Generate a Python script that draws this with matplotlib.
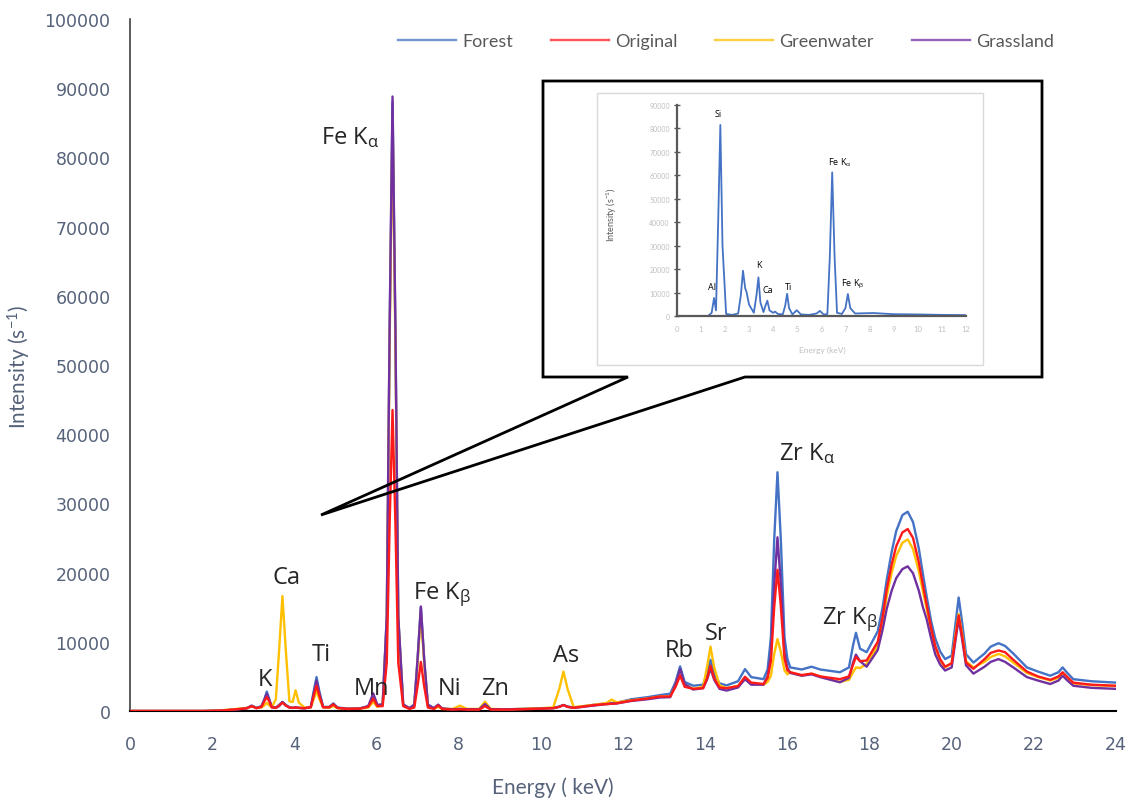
import matplotlib
matplotlib.use("Agg")
import matplotlib.pyplot as plt
from matplotlib.patches import Rectangle, Polygon
import numpy as np

plt.rcParams['font.family'] = ['Lato', 'DejaVu Sans']
plt.rcParams['mathtext.default'] = 'regular'

# ---------------- main spectrum data ----------------
energy = [
    0, 1.8, 2.2, 2.6, 2.85, 2.96, 3.08, 3.2, 3.27, 3.33,
    3.39, 3.45, 3.55, 3.63, 3.71, 3.79, 3.88, 3.96, 4.03, 4.11,
    4.25, 4.4, 4.47, 4.54, 4.61, 4.7, 4.85, 4.95, 5.05, 5.3,
    5.6, 5.8, 5.92, 6.02, 6.15, 6.25, 6.32, 6.39, 6.46, 6.53,
    6.65, 6.8, 6.92, 7.0, 7.08, 7.16, 7.25, 7.4, 7.5, 7.6,
    7.85, 8.03, 8.2, 8.5, 8.64, 8.78, 9.2, 9.8, 10.3, 10.45,
    10.55, 10.65, 10.8, 11.3, 11.6, 11.72, 11.85, 12.2, 12.6, 12.9,
    13.15, 13.28, 13.39, 13.5, 13.71, 13.95, 14.05, 14.13, 14.22, 14.35,
    14.52, 14.8, 14.97, 15.12, 15.42, 15.52, 15.6, 15.68, 15.76, 15.84, 15.93, 16.0,
    16.07, 16.35, 16.59, 16.8, 17.28, 17.5, 17.6, 17.67, 17.77, 17.93,
    18.2, 18.32, 18.42, 18.54, 18.65, 18.8, 18.93, 19.06, 19.2, 19.3, 19.39, 19.5, 19.6, 19.72, 19.84,
    20.0, 20.1, 20.17, 20.25, 20.35, 20.53, 20.8, 20.95, 21.14, 21.3, 21.5, 21.83,
    22.1, 22.4, 22.6, 22.7, 22.8, 22.96, 23.4, 24.0,
]

forest = [
    0, 0, 60, 250, 450, 780, 450, 700, 1700, 2800,
    1700, 600, 500, 900, 1300, 900, 550, 450, 550, 450,
    400, 600, 2800, 4900, 2800, 600, 600, 1100, 500, 350,
    400, 700, 2300, 800, 900, 13500, 55000, 88000, 55000, 13500,
    900, 400, 900, 7500, 15000, 7500, 900, 400, 900, 350,
    250, 300, 250, 250, 1000, 250, 250, 350, 450, 650,
    870, 650, 500, 900, 1100, 1150, 1200, 1700, 2000, 2300,
    2500, 4200, 6450, 4200, 3650, 3800, 5500, 7400, 5300, 4000,
    3700, 4300, 6050, 4900, 4600, 6000, 10600, 24700, 34500, 25000, 10700, 7600,
    6300, 6000, 6400, 6000, 5600, 6300, 9500, 11300, 9000, 8500,
    11500, 15000, 19000, 23000, 26000, 28300, 28800, 27300, 23500, 19800, 16600, 13000, 10500, 8600, 7500,
    8000, 13000, 16400, 13000, 8200, 7000, 8300, 9300, 9800, 9400, 8300, 6300,
    5700, 5100, 5600, 6300, 5600, 4600, 4300, 4100,
]

original = [
    0, 0, 60, 250, 400, 700, 400, 600, 1400, 2000,
    1400, 550, 450, 800, 1200, 800, 500, 450, 500, 450,
    400, 550, 2200, 3650, 2200, 550, 550, 950, 450, 300,
    350, 600, 1800, 700, 700, 7000, 27000, 43500, 27000, 7000,
    700, 300, 500, 3600, 7100, 3600, 500, 300, 800, 300,
    200, 250, 200, 200, 700, 200, 200, 300, 400, 600,
    850, 600, 450, 850, 1000, 1050, 1100, 1500, 1800, 2100,
    2100, 3500, 5100, 3500, 3200, 3300, 4800, 6550, 4700, 3400,
    3300, 3600, 4950, 4100, 3900, 4800, 7200, 14950, 20400, 15300, 7600, 5900,
    5600, 5200, 5400, 5000, 4600, 5000, 6700, 7800, 7200, 7300,
    10000, 13600, 17600, 21200, 23800, 25800, 26300, 25000, 21500, 18200, 15400, 12000, 9400, 7500, 6400,
    6900, 11000, 13800, 11000, 7000, 6100, 7500, 8400, 8750, 8500, 7400, 5700,
    5000, 4500, 5000, 5600, 5000, 4100, 3800, 3650,
]

greenwater = [
    0, 0, 80, 300, 450, 700, 450, 500, 800, 1200,
    800, 500, 1700, 8800, 16600, 9000, 1400, 1300, 3000, 1200,
    500, 500, 1700, 2900, 1700, 500, 450, 700, 400, 300,
    350, 500, 1300, 600, 900, 13000, 53000, 86000, 53000, 13000,
    900, 400, 800, 7000, 14000, 7000, 800, 350, 600, 300,
    300, 770, 300, 300, 1350, 300, 250, 350, 500, 3200,
    5700, 3200, 550, 900, 1150, 1650, 1250, 1550, 1800, 2100,
    2100, 3800, 5700, 3800, 3200, 3500, 6500, 9300, 6300, 3700,
    3300, 3600, 4800, 4000, 3800, 4200, 5100, 8200, 10400, 8600, 5900, 5300,
    5600, 5100, 5400, 5000, 4200, 4500, 5600, 6300, 6200, 6800,
    9400, 12800, 16600, 20000, 22400, 24300, 24800, 23400, 20200, 17300, 14800, 11600, 9100, 7300, 6300,
    6900, 11300, 14000, 11300, 7200, 6300, 7100, 7800, 8250, 7900, 7000, 5500,
    4900, 4400, 4800, 5500, 4900, 4000, 3750, 3600,
]

grassland = [
    0, 0, 40, 200, 400, 750, 420, 650, 1600, 2500,
    1600, 550, 450, 700, 1300, 800, 500, 450, 500, 450,
    400, 550, 2500, 4400, 2500, 550, 550, 1000, 450, 300,
    350, 700, 2550, 900, 950, 13700, 55500, 88800, 55500, 13700,
    950, 400, 900, 7500, 15100, 7500, 900, 400, 900, 350,
    250, 300, 250, 250, 1000, 250, 250, 300, 400, 600,
    870, 600, 450, 800, 1000, 1050, 1100, 1450, 1700, 1950,
    2000, 3900, 6050, 3900, 3100, 3300, 4600, 6150, 4500, 3200,
    2950, 3400, 4600, 3800, 3800, 5000, 8060, 18100, 25100, 18500, 8400, 6300,
    5500, 5100, 5300, 4900, 4150, 4800, 7000, 8150, 7200, 6400,
    8800, 11800, 14800, 17400, 19200, 20500, 20900, 19900, 17400, 15000, 13300, 10500, 8200, 6700, 5850,
    6300, 10500, 13300, 10500, 6600, 5400, 6400, 7100, 7500, 7100, 6300, 4900,
    4400, 3900, 4400, 5100, 4500, 3650, 3350, 3200,
]

assert len(energy) == len(forest) == len(original) == len(greenwater) == len(grassland)

series_names = ["Forest", "Original", "Greenwater", "Grassland"]
series_colors = ["#4472C4", "#FF1A1A", "#FFC000", "#7030A0"]

peak_labels = ["Fe K$_{α}$", "Ca", "K", "Ti", "Mn", "Fe K$_{β}$", "Ni", "Zn",
               "As", "Rb", "Sr", "Zr K$_{α}$", "Zr K$_{β}$"]
peak_label_x = [5.36, 3.82, 3.29, 4.65, 5.87, 7.6, 7.77, 8.89,
                10.61, 13.36, 14.26, 16.48, 17.53]
peak_label_y = [83000, 19300, 4600, 8200, 3300, 17000, 3300, 3300,
                8100, 8800, 11300, 37300, 13400]

# ---------------- inset spectrum data ----------------
inset_energy = [0, 1.3, 1.45, 1.55, 1.63, 1.72, 1.81, 1.9, 2.05, 2.3,
                2.55, 2.66, 2.75, 2.84, 2.9, 3.0, 3.2, 3.31, 3.39, 3.47,
                3.6, 3.68, 3.76, 3.85, 4.0, 4.08, 4.2, 4.4, 4.5, 4.58,
                4.66, 4.8, 4.98, 5.15, 5.5, 5.8, 5.94, 6.1, 6.25, 6.35,
                6.45, 6.55, 6.65, 6.85, 7.0, 7.1, 7.2, 7.4, 8.15, 9,
                10, 11, 12]
inset_intensity = [0, 100, 1500, 7800, 2500, 40000, 81500, 30000, 1000, 600,
                   1200, 9000, 19400, 12000, 10200, 5000, 1500, 9000, 16600, 6000,
                   1800, 4500, 6650, 2500, 1500, 2000, 1000, 800, 4500, 9600,
                   3500, 800, 2600, 800, 600, 1200, 2300, 700, 1000, 25000,
                   61300, 25000, 1500, 1000, 3500, 9500, 3500, 1200, 1400, 900,
                   800, 600, 500]
inset_labels = ["Si", "Al", "K", "Ca", "Ti", "Fe K$_{α}$", "Fe K$_{β}$"]
inset_label_x = [1.73, 1.45, 3.41, 3.76, 4.63, 6.77, 7.3]
inset_label_y = [86500, 12600, 22000, 11300, 12800, 65900, 14100]

# ---------------- figure ----------------
W, H = 1132, 803
fig = plt.figure(figsize=(W / 100, H / 100), dpi=100)

def fx(px):
    return px / W

def fy(py):
    return 1 - py / H

tick_col = "#56627A"
ax = fig.add_axes([fx(130), fy(712), fx(1116) - fx(130), fy(20) - fy(712)])
order = [0, 2, 3, 1]
lines = {}
for i in order:
    data = [forest, original, greenwater, grassland][i]
    ln, = ax.plot(energy, data, color=series_colors[i], lw=1.7,
                  label=series_names[i], zorder=2 + order.index(i))
    lines[i] = ln

ax.set_xlim(0, 24)
ax.set_ylim(0, 100000)
ax.set_xticks(np.arange(0, 25, 2))
ax.set_yticks(np.arange(0, 100001, 10000))
ax.tick_params(length=0, labelsize=12.5, colors=tick_col, labelfontfamily='DejaVu Sans')
ax.tick_params(axis='y', pad=14)
ax.tick_params(axis='x', pad=17)
for s in ["top", "right"]:
    ax.spines[s].set_visible(False)
ax.spines["left"].set_color("#404040")
ax.spines["left"].set_linewidth(1.2)
ax.spines["bottom"].set_color("#000000")
ax.spines["bottom"].set_linewidth(1.5)

ax.set_xlabel("Energy ( keV)", fontsize=15, color=tick_col)
ax.set_ylabel("Intensity (s$^{-1}$)", fontsize=15, color=tick_col)
ax.xaxis.set_label_coords((553 - 130) / 986, (712 - 777) / 692)
ax.yaxis.set_label_coords((33 - 130) / 986, (712 - 367) / 692)

for t, x, y in zip(peak_labels, peak_label_x, peak_label_y):
    ax.text(x, y, t, fontsize=17, color="#262626", ha="center", va="center",
            family=["Open Sans", "DejaVu Sans"], zorder=10)

leg = fig.legend([lines[i] for i in range(4)], series_names, loc="center",
                 bbox_to_anchor=(fx(726), fy(42)), ncol=4, frameon=False,
                 handlelength=3.2, handletextpad=0.35, columnspacing=2.1,
                 fontsize=13)
for t in leg.get_texts():
    t.set_color("#595959")
for h in leg.legend_handles:
    h.set_alpha(0.75)

# overlay for callout
ov = fig.add_axes([0, 0, 1, 1], zorder=5)
ov.set_xlim(0, W)
ov.set_ylim(H, 0)
ov.axis("off")
ov.patch.set_alpha(0)
ov.add_patch(Rectangle((543, 82), 1042 - 543, 378 - 82, facecolor="white",
                       edgecolor="none"))
ov.add_patch(Rectangle((597, 94), 983 - 597, 366 - 94, facecolor="white",
                       edgecolor="#D9D9D9", lw=1))
bubble = [(543, 82), (1042, 82), (1042, 378), (745, 378), (321, 516),
          (628, 378), (543, 378)]
ov.add_patch(Polygon(bubble, closed=True, fill=False, edgecolor="black",
                     lw=2.0, joinstyle="miter"))

# inset
ix0, ix1, iy0, iy1 = 676.7, 966, 317.3, 106
iax = fig.add_axes([fx(ix0), fy(iy0), fx(ix1) - fx(ix0), fy(iy1) - fy(iy0)],
                   zorder=6)
iax.patch.set_alpha(0)
iax.plot(inset_energy, inset_intensity, color="#4472C4", lw=1.3)
iax.set_xlim(0, 12)
iax.set_ylim(0, 90000)
iax.set_xticks(np.arange(0, 13, 1))
iax.set_yticks(np.arange(0, 90001, 10000))
iax.tick_params(axis='x', length=0, labelsize=5.5, colors="#BFBFBF", pad=6)
iax.tick_params(axis='y', direction='inout', length=4, width=1,
                color="#595959", labelsize=5, labelcolor="#BFBFBF", pad=3)
for s in ["top", "right"]:
    iax.spines[s].set_visible(False)
for s in ["left", "bottom"]:
    iax.spines[s].set_color("#595959")
    iax.spines[s].set_linewidth(1.6)
iax.set_xlabel("Energy (keV)", fontsize=6, color="#BFBFBF")
iax.set_ylabel("Intensity (s$^{-1}$)", fontsize=6.5, color="#595959")
iax.xaxis.set_label_coords(0.505, -0.139)
iax.yaxis.set_label_coords(-0.199, 0.484)
for t, x, y in zip(inset_labels, inset_label_x, inset_label_y):
    iax.text(x, y, t, fontsize=6.5, color="black", ha="center", va="center",
             family=["Open Sans", "DejaVu Sans"])

fig.savefig("out.png", dpi=100)
